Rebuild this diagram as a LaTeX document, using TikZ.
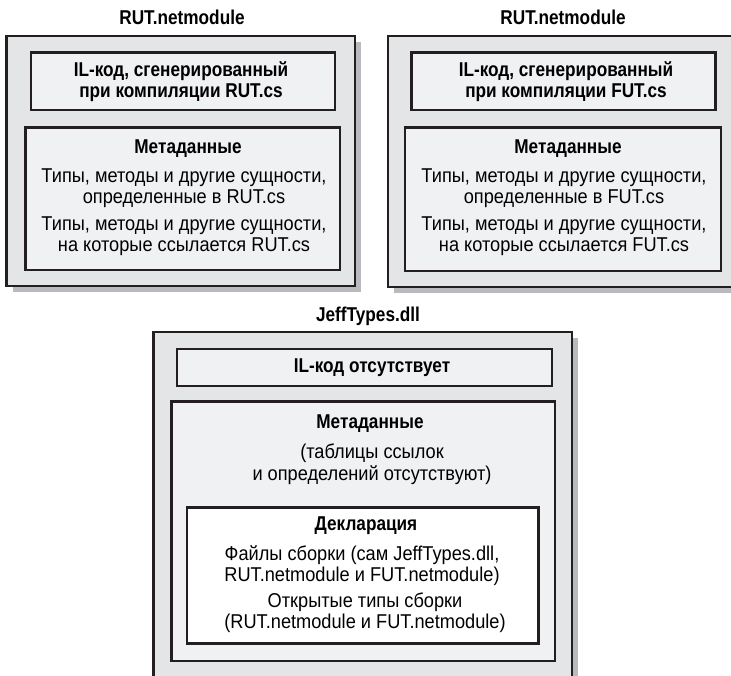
\documentclass[tikz,border=0pt]{standalone}
\usepackage{fontspec}
\setmainfont{Liberation Sans}[FakeStretch=0.91, BoldFeatures={FakeStretch=0.86}]
\definecolor{shadowgray}{RGB}{185,186,189}
\definecolor{outerfill}{RGB}{228,229,231}
\definecolor{innerfill}{RGB}{240,241,243}
\definecolor{linedark}{RGB}{35,31,32}
\begin{document}
\begin{tikzpicture}[x=1pt,y=-1pt,
  panel/.style={draw=linedark, line width=2.7pt, anchor=north west, inner sep=0pt, outer sep=0pt},
  outerbox/.style={panel, fill=outerfill},
  innerbox/.style={panel, fill=innerfill},
  declbox/.style={panel, fill=white},
  shadowbox/.style={fill=shadowgray, draw=none, anchor=north west, inner sep=0pt, outer sep=0pt},
  heading/.style={font=\fontsize{20}{22}\selectfont\bfseries, anchor=base, inner sep=0pt},
  body/.style={font=\fontsize{20}{22}\selectfont, anchor=base, inner sep=0pt}]
\useasboundingbox (0,0) rectangle (731,676);
\clip (0,0) rectangle (731,676);

% ---------- RUT.netmodule (left) ----------
\node[heading] (rutTitle) at (182,25) {RUT.netmodule};
\node[shadowbox, minimum width=348.5pt, minimum height=250pt] (rutShadow) at (12.5,42) {};
\node[outerbox, minimum width=348.5pt, minimum height=250pt] (rutOuter) at (6.5,36) {};
\node[innerbox, minimum width=304pt, minimum height=57.5pt] (rutIL) at (31,52.5) {};
\node[heading] (rutILa) at (181,77) {IL-код, сгенерированный};
\node[heading] (rutILb) at (181,98) {при компиляции RUT.cs};
\node[innerbox, minimum width=314.5pt, minimum height=142.5pt] (rutMeta) at (25.5,127.5) {};
\node[heading] (rutMetaT) at (188,154) {Метаданные};
\node[body] (rutDefA) at (184,183) {Типы, методы и другие сущности,};
\node[body] (rutDefB) at (184,204) {определенные в RUT.cs};
\node[body] (rutRefA) at (184,231) {Типы, методы и другие сущности,};
\node[body] (rutRefB) at (184,252) {на которые ссылается RUT.cs};

% ---------- second module (right) ----------
\node[heading] (futTitle) at (563,25) {RUT.netmodule};
\node[shadowbox, minimum width=349pt, minimum height=251pt] (futShadow) at (394,42) {};
\node[outerbox, minimum width=349pt, minimum height=251pt] (futOuter) at (388,36) {};
\node[innerbox, minimum width=304pt, minimum height=57.5pt] (futIL) at (411.5,52.5) {};
\node[heading] (futILa) at (566,77) {IL-код, сгенерированный};
\node[heading] (futILb) at (566,98) {при компиляции FUT.cs};
\node[innerbox, minimum width=316pt, minimum height=143.5pt] (futMeta) at (405,127.5) {};
\node[heading] (futMetaT) at (568,154) {Метаданные};
\node[body] (futDefA) at (564,183) {Типы, методы и другие сущности,};
\node[body] (futDefB) at (564,204) {определенные в FUT.cs};
\node[body] (futRefA) at (564,231) {Типы, методы и другие сущности,};
\node[body] (futRefB) at (564,252) {на которые ссылается FUT.cs};

% ---------- JeffTypes.dll (bottom) ----------
\node[heading] (dllTitle) at (368,322) {JeffTypes.dll};
\node[shadowbox, minimum width=418.5pt, minimum height=380pt] (dllShadow) at (159.5,338) {};
\node[outerbox, minimum width=418.5pt, minimum height=380pt] (dllOuter) at (153.5,332) {};
\node[innerbox, minimum width=375pt, minimum height=37pt] (dllIL) at (177,349) {};
\node[heading] (dllILt) at (372,372) {IL-код отсутствует};
\node[innerbox, minimum width=383.5pt, minimum height=259.5pt] (dllMeta) at (171.5,401.5) {};
\node[heading] (dllMetaT) at (370,428) {Метаданные};
\node[body] (dllNoTabA) at (372,458) {(таблицы ссылок};
\node[body] (dllNoTabB) at (372,480) {и определений отсутствуют)};
\node[declbox, minimum width=351.5pt, minimum height=136pt] (dllDecl) at (187,507.5) {};
\node[heading] (dllDeclT) at (366,530) {Декларация};
\node[body] (dllFilesA) at (362,560) {Файлы сборки (сам JeffTypes.dll,};
\node[body] (dllFilesB) at (362,581) {RUT.netmodule и FUT.netmodule)};
\node[body] (dllTypesA) at (365,607) {Открытые типы сборки};
\node[body] (dllTypesB) at (365,628) {(RUT.netmodule и FUT.netmodule)};
\end{tikzpicture}
\end{document}
